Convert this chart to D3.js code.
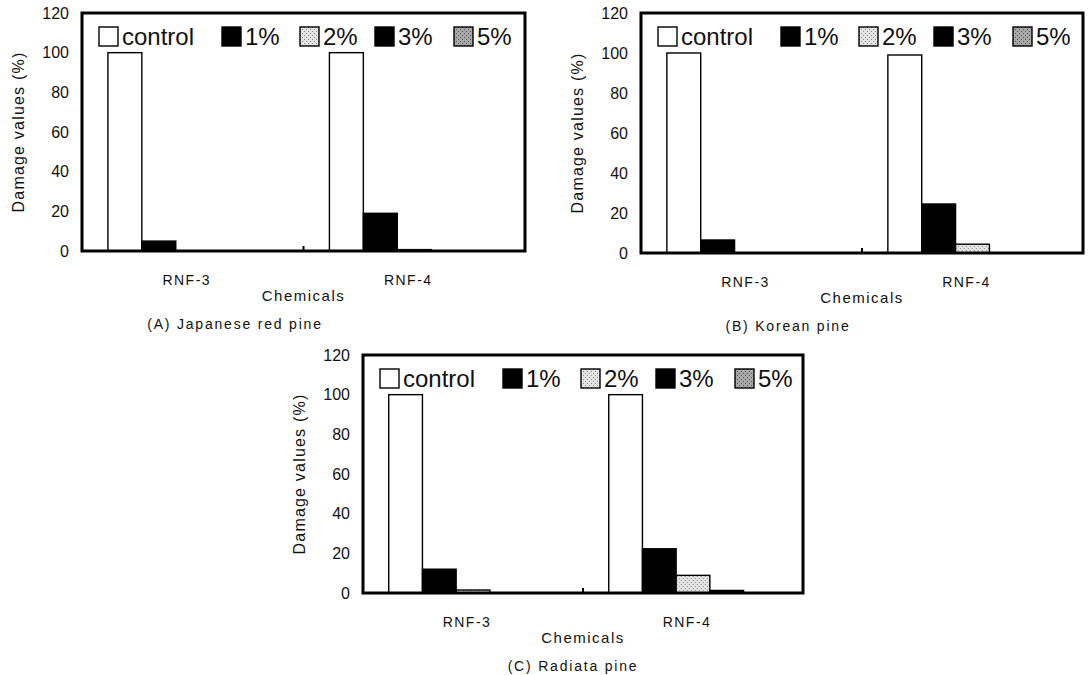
<!DOCTYPE html>
<html>
<head>
<meta charset="utf-8">
<script src="https://cdn.jsdelivr.net/npm/d3@7"></script>
<style>
  body { margin: 0; background: #fff; }
  text { font-family: "Liberation Sans", Arial, sans-serif; fill: #111; }
</style>
</head>
<body>
<svg id="chart" width="1089" height="675"></svg>
<script>
// Data
const chemicals = ["RNF-3", "RNF-4"];
const concentrations = ["control", "1%", "2%", "3%", "5%"];
const yTicks = [0, 20, 40, 60, 80, 100, 120];

// damage values (%) per chemical, in the order of concentrations
const japaneseRedPine = [[100, 5, 0, 0, 0], [100, 19, 0.7, 0, 0]];
const koreanPine = [[100, 6.5, 0, 0, 0], [99, 24.5, 4.4, 0, 0]];
const radiataPine = [[100, 12, 1.5, 0, 0], [100, 22.3, 8.9, 1.3, 0]];

const captions = ["(A) Japanese red pine", "(B) Korean pine", "(C) Radiata pine"];

const svg = d3.select('#chart');

// Patterns for the grey fills
const defs = svg.append('defs');
function speckle(id, bg, dot) {
  const p = defs.append('pattern').attr('id', id)
    .attr('width', 4).attr('height', 4).attr('patternUnits', 'userSpaceOnUse');
  p.append('rect').attr('width', 4).attr('height', 4).attr('fill', bg);
  p.append('rect').attr('x', 0).attr('y', 0).attr('width', 1).attr('height', 1).attr('fill', dot);
  p.append('rect').attr('x', 2).attr('y', 2).attr('width', 1).attr('height', 1).attr('fill', dot);
}
speckle('p2', '#e4e4e4', '#8a8a8a');
speckle('p5', '#a8a8a8', '#555');

const fills = d3.scaleOrdinal().domain(concentrations)
  .range(['#fff', '#000', 'url(#p2)', '#000', 'url(#p5)']);

// panel layout
const panels = [
  {data: japaneseRedPine, left: 82, right: 525, top: 13, bottom: 251, capX: 235},
  {data: koreanPine, left: 641, right: 1083, top: 13, bottom: 253, capX: 788},
  {data: radiataPine, left: 363, right: 803, top: 355, bottom: 593, capX: 573}
];
const legendOffsets = [17, 140, 218, 293, 372];

panels.forEach((p, pi) => {
  const g = svg.append('g');

  const y = d3.scaleLinear().domain([0, 120]).range([p.bottom, p.top]);
  const x0 = d3.scaleBand().domain(chemicals).range([p.left, p.right])
    .paddingInner(0.234).paddingOuter(0.117);
  const x1 = d3.scaleBand().domain(concentrations).range([0, x0.bandwidth()]);

  // bars
  g.selectAll('.grp').data(p.data).join('g')
    .attr('transform', (d, i) => `translate(${x0(chemicals[i])},0)`)
    .selectAll('rect').data(d => d.map((v, j) => ({k: concentrations[j], v})))
    .join('rect')
    .attr('x', d => x1(d.k))
    .attr('y', d => y(d.v))
    .attr('width', x1.bandwidth())
    .attr('height', d => p.bottom - y(d.v))
    .attr('fill', d => fills(d.k))
    .attr('stroke', d => d.v > 0 ? '#000' : 'none')
    .attr('stroke-width', 1.4);

  // frame
  g.append('rect')
    .attr('x', p.left).attr('y', p.top)
    .attr('width', p.right - p.left).attr('height', p.bottom - p.top)
    .attr('fill', 'none').attr('stroke', '#000').attr('stroke-width', 3);

  // middle tick on the category axis
  g.append('line')
    .attr('x1', (p.left + p.right) / 2).attr('x2', (p.left + p.right) / 2)
    .attr('y1', p.bottom).attr('y2', p.bottom - 5)
    .attr('stroke', '#000').attr('stroke-width', 2);

  // y axis
  const ya = g.append('g').attr('transform', `translate(${p.left},0)`)
    .call(d3.axisLeft(y).tickValues(yTicks).tickSize(0).tickPadding(13));
  ya.select('.domain').remove();
  ya.selectAll('text').style('font-size', '16px').style('font-family', '"Liberation Sans", Arial, sans-serif').attr('fill', '#111');

  g.append('text')
    .attr('transform', `translate(${p.left - 58},${(p.top + p.bottom) / 2}) rotate(-90)`)
    .attr('text-anchor', 'middle')
    .style('font-size', '16px').style('letter-spacing', '1.2px')
    .text('Damage values (%)');

  // category labels
  g.selectAll('.cat').data(chemicals).join('text')
    .attr('x', d => x0(d) + x0.bandwidth() / 2 - 6)
    .attr('y', p.bottom + 34)
    .attr('text-anchor', 'middle')
    .style('font-size', '14px').style('letter-spacing', '1.5px')
    .text(d => d);

  g.append('text')
    .attr('x', (p.left + p.right) / 2).attr('y', p.bottom + 50)
    .attr('text-anchor', 'middle')
    .style('font-size', '15px').style('letter-spacing', '1.5px')
    .text('Chemicals');

  g.append('text')
    .attr('x', p.capX).attr('y', p.bottom + 78)
    .attr('text-anchor', 'middle')
    .style('font-size', '14px').style('letter-spacing', '1.8px')
    .text(captions[pi]);

  // legend
  const lg = g.selectAll('.leg').data(concentrations).join('g')
    .attr('transform', (d, i) => `translate(${p.left + legendOffsets[i]},${p.top + 14})`);
  lg.append('rect')
    .attr('width', 19).attr('height', 19)
    .attr('fill', d => fills(d))
    .attr('stroke', '#000').attr('stroke-width', 1.4);
  lg.append('text')
    .attr('x', 23).attr('y', 18)
    .style('font-size', '24px')
    .text(d => d);
});
</script>
</body>
</html>
